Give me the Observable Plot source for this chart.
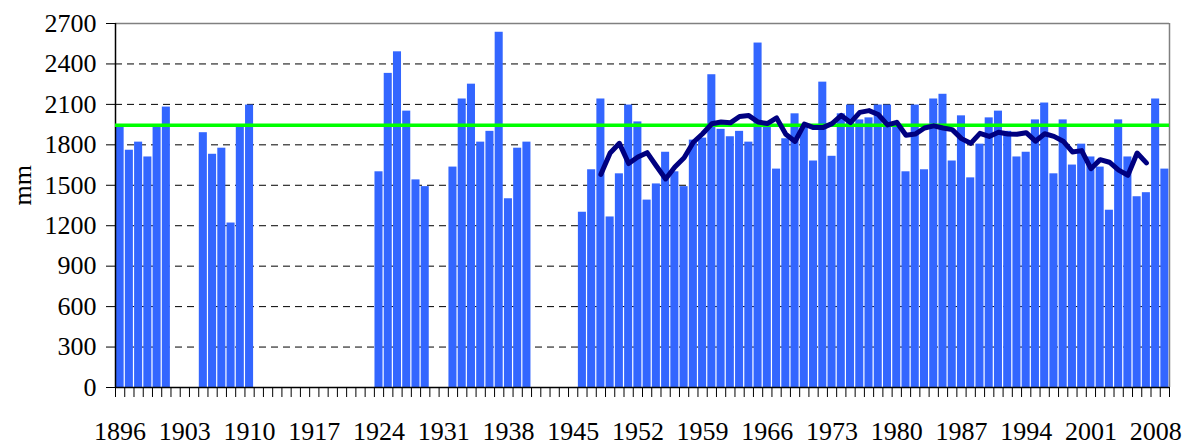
<!DOCTYPE html>
<html>
<head>
<meta charset="utf-8">
<script src="https://cdn.jsdelivr.net/npm/d3@7"></script>
<script src="https://cdn.jsdelivr.net/npm/@observablehq/plot@0.6"></script>
<style>
  html, body { margin: 0; padding: 0; background: #fff; }
  #chart { width: 1186px; height: 444px; }
  #chart svg, #chart svg text { font-family: "Liberation Serif", "Times New Roman", serif !important; }
</style>
</head>
<body>
<div id="chart"></div>
<script>
// Annual rainfall (mm), years with data
const barYears = [
  1896, 1897, 1898, 1899, 1900, 1901,
  1905, 1906, 1907, 1908, 1909, 1910,
  1924, 1925, 1926, 1927, 1928, 1929,
  1932, 1933, 1934, 1935, 1936, 1937, 1938, 1939, 1940,
  1946, 1947, 1948, 1949, 1950, 1951, 1952, 1953, 1954, 1955,
  1956, 1957, 1958, 1959, 1960, 1961, 1962, 1963, 1964, 1965,
  1966, 1967, 1968, 1969, 1970, 1971, 1972, 1973, 1974, 1975,
  1976, 1977, 1978, 1979, 1980, 1981, 1982, 1983, 1984, 1985,
  1986, 1987, 1988, 1989, 1990, 1991, 1992, 1993, 1994, 1995,
  1996, 1997, 1998, 1999, 2000, 2001, 2002, 2003, 2004, 2005,
  2006, 2007, 2008, 2009
];
const rainfall = [
  1945, 1760, 1820, 1710, 1940, 2080,
  1890, 1730, 1775, 1220, 1940, 2095,
  1600, 2330, 2490, 2050, 1540, 1490,
  1635, 2140, 2250, 1820, 1900, 2635, 1400, 1775, 1820,
  1300, 1615, 2140, 1265, 1585, 2095, 1970, 1390, 1510, 1745,
  1600, 1490, 1835, 1850, 2320, 1915, 1860, 1900, 1820, 2555,
  1950, 1620, 1845, 2030, 1950, 1680, 2265, 1715, 2030, 2095,
  1985, 2000, 2095, 2095, 1950, 1600, 2095, 1615, 2140, 2175,
  1680, 2015, 1555, 1805, 2000, 2050, 1900, 1710, 1745, 1985,
  2110, 1585, 1985, 1650, 1805, 1710, 1635, 1315, 1985, 1710,
  1415, 1445, 2140, 1620
];
// Moving-average curve (dark blue)
const maYears = [
  1948, 1949, 1950, 1951, 1952, 1953, 1954, 1955, 1956, 1957,
  1958, 1959, 1960, 1961, 1962, 1963, 1964, 1965, 1966, 1967,
  1968, 1969, 1970, 1971, 1972, 1973, 1974, 1975, 1976, 1977,
  1978, 1979, 1980, 1981, 1982, 1983, 1984, 1985, 1986, 1987,
  1988, 1989, 1990, 1991, 1992, 1993, 1994, 1995, 1996, 1997,
  1998, 1999, 2000, 2001, 2002, 2003, 2004, 2005, 2006, 2007
];
const maValues = [
  1581, 1740, 1811, 1661, 1710, 1742, 1643, 1547, 1636, 1704,
  1819, 1882, 1956, 1969, 1963, 2010, 2017, 1969, 1958, 2000,
  1879, 1825, 1954, 1928, 1928, 1957, 2018, 1965, 2041, 2054,
  2025, 1948, 1967, 1871, 1880, 1925, 1941, 1925, 1913, 1846,
  1811, 1885, 1862, 1893, 1881, 1878, 1890, 1827, 1882, 1863,
  1827, 1747, 1757, 1623, 1690, 1671, 1612, 1574, 1739, 1666
];
const meanValue = 1945;
const yTicks = [0, 300, 600, 900, 1200, 1500, 1800, 2100, 2400, 2700];
const gridTicks = [300, 600, 900, 1200, 1500, 1800, 2100, 2400];
const xLabelYears = [1896, 1903, 1910, 1917, 1924, 1931, 1938, 1945, 1952,
                     1959, 1966, 1973, 1980, 1987, 1994, 2001, 2008];
const firstYear = 1896, lastYear = 2009;

const bars = barYears.map((y, i) => ({year: y, value: rainfall[i]}));
const ma = maYears.map((y, i) => ({year: y, value: maValues[i]}));
const boundaries = d3.range(firstYear - 0.5, lastYear + 1, 1);

const FONT = "'Liberation Serif', 'Times New Roman', serif";

const chart = Plot.plot({
  width: 1186,
  height: 444,
  marginLeft: 115,
  marginRight: 17,
  marginTop: 23,
  marginBottom: 57,
  style: {fontFamily: FONT, fontSize: "26px", background: "#fff", color: "#000", overflow: "visible"},
  x: {type: "linear", domain: [firstYear - 0.5, lastYear + 0.5]},
  y: {domain: [0, 2700]},
  marks: [
    Plot.ruleY(gridTicks, {stroke: "#000", strokeWidth: 1, strokeDasharray: "7,5"}),
    Plot.rectY(bars, {
      x1: d => d.year - 0.5,
      x2: d => d.year + 0.5,
      y: "value",
      fill: "#3366FF",
      insetLeft: 0.6,
      insetRight: 0.6
    }),
    Plot.ruleY([2700], {stroke: "#808080", strokeWidth: 1.5}),
    Plot.ruleX([lastYear + 0.5], {stroke: "#808080", strokeWidth: 1.5}),
    Plot.ruleX([firstYear - 0.5], {stroke: "#000", strokeWidth: 1.5}),
    Plot.ruleY([0], {stroke: "#000", strokeWidth: 1.5}),
    Plot.ruleY([meanValue], {stroke: "#00FF00", strokeWidth: 3.5}),
    Plot.lineY(ma, {x: "year", y: "value", stroke: "#000080", strokeWidth: 5,
      strokeLinejoin: "round", strokeLinecap: "round"}),
    Plot.axisY({ticks: yTicks, tickSize: 9, tickPadding: 10, tickFormat: "d",
      label: null, fontSize: 26, stroke: "#000"}),
    Plot.axisX({ticks: boundaries, tickSize: 10, tickFormat: () => "", label: null, stroke: "#000"}),
    Plot.axisX({ticks: xLabelYears, tickSize: 0, tickPadding: 34, tickFormat: "d",
      label: null, fontSize: 26}),
    Plot.text(["mm"], {frameAnchor: "left", dx: -93, rotate: -90, text: d => d,
      fontSize: 26, fill: "#000"})
  ]
});
document.getElementById("chart").append(chart);
</script>
</body>
</html>
